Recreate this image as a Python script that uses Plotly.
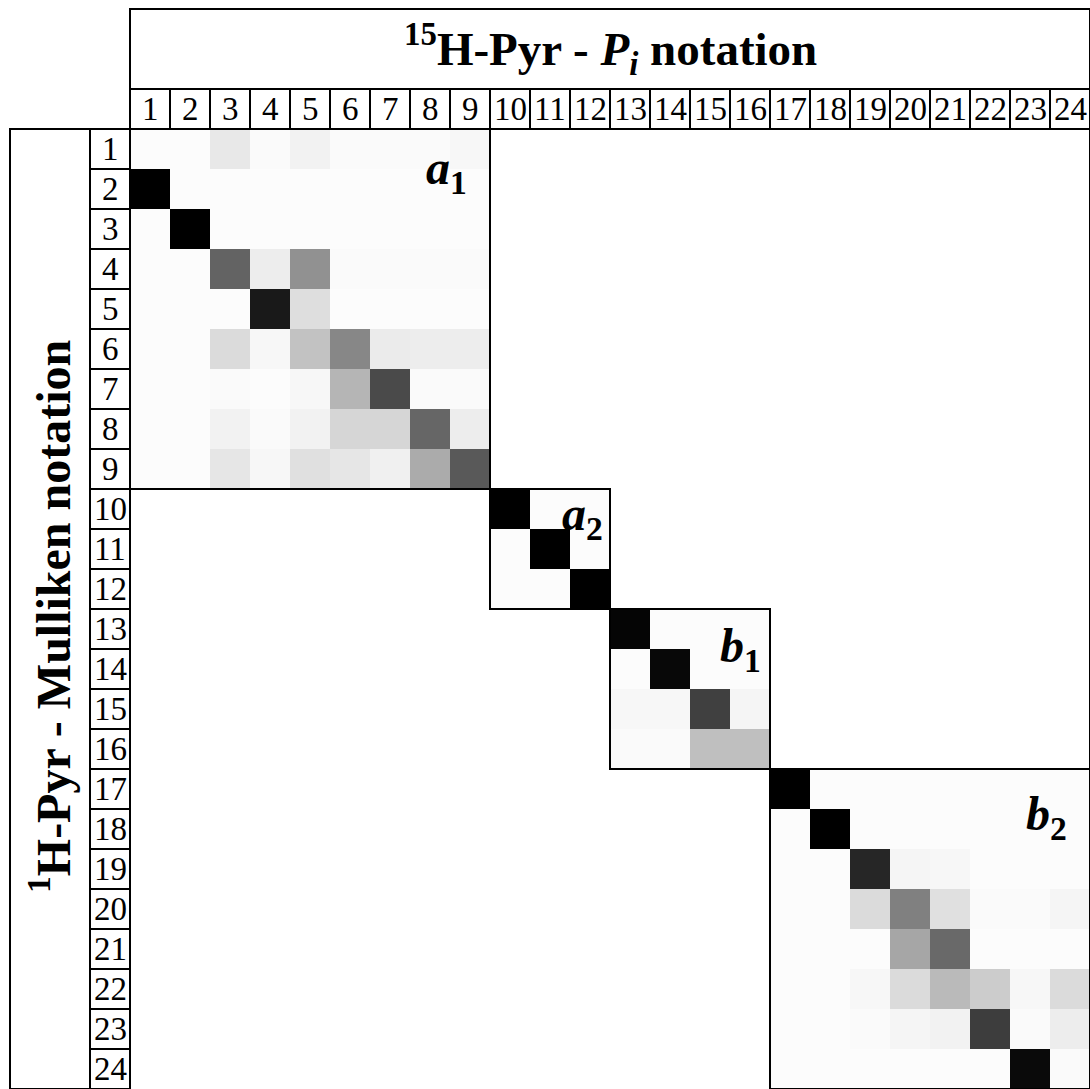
import plotly.graph_objects as go

# ---- data (darkness in %, 0 = white, 100 = black) ----
row_labels = [str(i) for i in range(1, 25)]
col_labels = [str(i) for i in range(1, 25)]

block_a1 = [
    [1, 1, 9, 2, 5, 2, 2, 2, 3],
    [100, 1, 1, 1, 1, 1, 1, 1, 1],
    [1, 100, 1, 1, 1, 1, 1, 1, 1],
    [1, 1, 61, 7, 43, 2, 2, 2, 2],
    [1, 1, 1, 90, 13, 1, 1, 1, 1],
    [1, 1, 14, 3, 24, 47, 8, 7, 7],
    [1, 1, 2, 1, 3, 29, 71, 2, 2],
    [1, 1, 5, 2, 5, 16, 16, 60, 7],
    [1, 1, 10, 3, 12, 10, 6, 33, 65],
]
block_a2 = [
    [100, 1, 1],
    [1, 100, 1],
    [1, 1, 100],
]
block_b1 = [
    [98, 1, 1, 1],
    [1, 97, 1, 1],
    [3, 3, 75, 4],
    [2, 2, 25, 25],
]
block_b2 = [
    [100, 1, 1, 1, 1, 1, 1, 1],
    [1, 100, 1, 1, 1, 1, 1, 1],
    [1, 1, 85, 4, 3, 1, 1, 1],
    [1, 1, 14, 50, 12, 2, 2, 4],
    [1, 1, 1, 35, 59, 1, 1, 1],
    [1, 1, 3, 14, 27, 20, 3, 14],
    [1, 1, 2, 4, 5, 76, 2, 7],
    [1, 1, 1, 1, 1, 1, 96, 2],
]
block_names = ["a1", "a2", "b1", "b2"]
block_starts = [1, 10, 13, 17]
blocks = [block_a1, block_a2, block_b1, block_b2]

# assemble full matrix
N = 24
z = [[0] * N for _ in range(N)]
for start, blk in zip(block_starts, blocks):
    for i, row in enumerate(blk):
        for j, v in enumerate(row):
            z[start - 1 + i][start - 1 + j] = v

FONT = "Liberation Serif"
LW = 2

fig = go.Figure()
fig.add_trace(go.Heatmap(
    z=z, x=list(range(1, N + 1)), y=list(range(1, N + 1)),
    colorscale=[[0, "white"], [1, "black"]], zmin=0, zmax=100,
    showscale=False, hoverinfo="skip",
))

shapes = []
def rect(x0, y0, x1, y1):
    shapes.append(dict(type="rect", xref="x", yref="y", x0=x0, y0=y0, x1=x1, y1=y1,
                       line=dict(color="black", width=LW), fillcolor="rgba(0,0,0,0)"))
def line(x0, y0, x1, y1):
    shapes.append(dict(type="line", xref="x", yref="y", x0=x0, y0=y0, x1=x1, y1=y1,
                       line=dict(color="black", width=LW)))

# header title box and tick row
rect(0.5, -2.5, 24.5, -0.5)
rect(0.5, -0.5, 24.5, 0.5)
for k in range(N + 1):
    line(k + 0.5, -0.5, k + 0.5, 0.5)
# left title box and row label column
rect(-2.5, 0.5, -0.5, 24.5)
rect(-0.5, 0.5, 0.5, 24.5)
for k in range(N + 1):
    line(-0.5, k + 0.5, 0.5, k + 0.5)
# right edge
line(24.5, -2.5, 24.5, 24.5)
# block boxes
for start, blk in zip(block_starts, blocks):
    n = len(blk)
    rect(start - 0.5, start - 0.5, start - 0.5 + n, start - 0.5 + n)

annotations = []
for i, lab in enumerate(col_labels):
    annotations.append(dict(x=i + 1, y=0, xref="x", yref="y", text=lab, showarrow=False,
                            xanchor="center", yanchor="middle",
                            font=dict(family=FONT, size=33, color="black")))
for i, lab in enumerate(row_labels):
    annotations.append(dict(x=0, y=i + 1, xref="x", yref="y", text=lab, showarrow=False,
                            xanchor="center", yanchor="middle",
                            font=dict(family=FONT, size=33, color="black")))

annotations.append(dict(x=12.5, y=-1.5, xref="x", yref="y",
                        text="<b><sup>15</sup>H-Pyr - <i>P</i><sub><i>i</i></sub> notation</b>",
                        showarrow=False, xanchor="center", yanchor="middle",
                        font=dict(family=FONT, size=47, color="black")))
annotations.append(dict(x=-1.5, y=12.7, xref="x", yref="y",
                        text="<b><sup>1</sup>H-Pyr - Mulliken notation</b>",
                        showarrow=False, textangle=-90, xanchor="center", yanchor="middle",
                        font=dict(family=FONT, size=48, color="black")))

label_pos = [(8.4, 1.55), (11.8, 10.2), (15.75, 13.5), (23.4, 17.7)]
for name, (lx, ly) in zip(block_names, label_pos):
    annotations.append(dict(x=lx, y=ly, xref="x", yref="y",
                            text=f"<b><i>{name[0]}</i><sub>{name[1]}</sub></b>",
                            showarrow=False, xanchor="center", yanchor="middle",
                            font=dict(family=FONT, size=48, color="black")))

fig.update_layout(
    width=1090, height=1089, autosize=False,
    margin=dict(l=0, r=0, t=0, b=0, pad=0),
    paper_bgcolor="white", plot_bgcolor="white",
    showlegend=False,
    shapes=shapes, annotations=annotations,
    xaxis=dict(range=[-2.75, 24.5], domain=[0, 1], visible=False, showgrid=False,
               zeroline=False, fixedrange=True),
    yaxis=dict(range=[24.5, -2.725], domain=[0, 1], visible=False, showgrid=False,
               zeroline=False, fixedrange=True),
)

fig.write_html("out.html")
